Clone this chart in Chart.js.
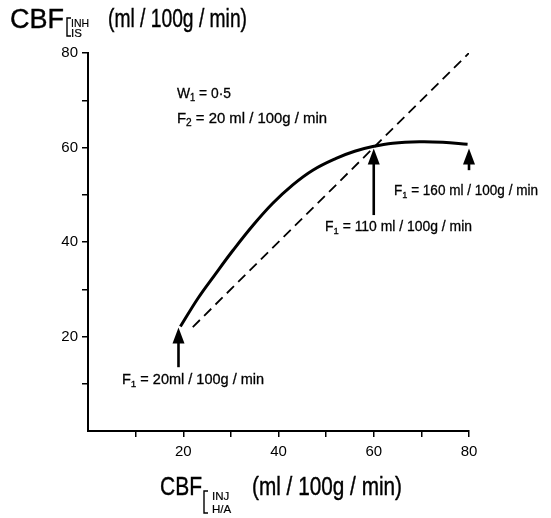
<!DOCTYPE html>
<html>
<head>
<meta charset="utf-8">
<script src="https://cdn.jsdelivr.net/npm/chart.js@4.4.1/dist/chart.umd.min.js"></script>
<style>html,body{margin:0;padding:0;background:#fff;}</style>
</head>
<body>
<canvas id="chart" width="551" height="518"></canvas>
<script>
// CBF by inhalation vs CBF by injection
const curveX = [19.4, 23.1, 26.6, 30.5, 34.7, 38.8, 43.0, 47.2, 52.1, 56.0, 59.8, 64.0, 69.6, 74.5, 79.7];
const curveY = [22.1, 28.1, 33.0, 38.3, 43.6, 48.2, 52.1, 55.2, 57.7, 59.2, 60.2, 60.9, 61.2, 61.1, 60.7];
const identityX = [22, 80];
const identityY = [22, 80];
// arrows marking F1 values
const arrowX = [19, 60, 80];
const arrowTip = [21.9, 59.8, 59.8];
const arrowTail = [13.5, 45.7, 55.2];
const arrowLabels = ['F\u2081 = 20ml / 100g / min', 'F\u2081 = 110 ml / 100g / min', 'F\u2081 = 160 ml / 100g / min'];
const paramLabels = ['W\u2081 = 0\u00b75', 'F\u2082 = 20 ml / 100g / min'];
const labelledTicks = [20, 40, 60, 80];

const FONT = "'Liberation Sans', Arial, sans-serif";
const SUB = {'\u2081':'1', '\u2082':'2'};

function pts(xs, ys){ return xs.map((x,i)=>({x, y: ys[i]})); }

// text with subscript digits drawn small and lowered, squeezed to maxW
function txt(ctx, s, x, y, size, maxW, stroke){
  const parts = [];
  let buf = '';
  for (const ch of s){
    if (SUB[ch]){ if (buf) parts.push([buf, false]); buf = ''; parts.push([SUB[ch], true]); }
    else buf += ch;
  }
  if (buf) parts.push([buf, false]);
  const fontFor = sub => (sub ? size * 0.68 : size) + 'px ' + FONT;
  let w = 0;
  parts.forEach(p => { ctx.font = fontFor(p[1]); w += ctx.measureText(p[0]).width; });
  const k = (maxW && w > maxW) ? maxW / w : 1;
  ctx.save();
  ctx.translate(x, y); ctx.scale(k, 1);
  ctx.lineWidth = stroke || 0.3;
  let cx = 0;
  parts.forEach(p => {
    ctx.font = fontFor(p[1]);
    const dy = p[1] ? size * 0.2 : 0;
    ctx.fillText(p[0], cx, dy);
    ctx.strokeText(p[0], cx, dy);
    cx += ctx.measureText(p[0]).width;
  });
  ctx.restore();
}

function bracket(ctx, x, y1, y2){
  ctx.beginPath();
  ctx.moveTo(x+4, y1); ctx.lineTo(x, y1); ctx.lineTo(x, y2); ctx.lineTo(x+4, y2);
  ctx.lineWidth = 1.4; ctx.stroke();
}

const annotations = {
  id: 'annotations',
  afterDatasetsDraw(chart){
    const ctx = chart.ctx, xs = chart.scales.x, ys = chart.scales.y;
    ctx.save();
    ctx.fillStyle = '#000'; ctx.strokeStyle = '#000';
    ctx.textBaseline = 'alphabetic'; ctx.textAlign = 'left';

    // arrows
    arrowX.forEach((v,i)=>{
      const px = xs.getPixelForValue(v);
      const tip = ys.getPixelForValue(arrowTip[i]);
      const tail = ys.getPixelForValue(arrowTail[i]);
      ctx.beginPath(); ctx.moveTo(px, tail); ctx.lineTo(px, tip + 12);
      ctx.lineWidth = 2.6; ctx.stroke();
      ctx.beginPath(); ctx.moveTo(px, tip); ctx.lineTo(px - 6, tip + 16); ctx.lineTo(px + 6, tip + 16); ctx.closePath();
      ctx.fill();
    });

    // arrow labels
    const pos = [[122, 384, 145], [325, 231, 147], [394, 195, 144]];
    arrowLabels.forEach((s,i)=> txt(ctx, s, pos[i][0], pos[i][1], 14.5, pos[i][2]));

    // parameters
    txt(ctx, paramLabels[0], 177, 98, 15, 54);
    txt(ctx, paramLabels[1], 177, 123, 15, 150);

    // y axis title
    txt(ctx, 'CBF', 10, 28, 27, 57, 0.4);
    bracket(ctx, 67, 18, 36);
    txt(ctx, 'INH', 71, 27, 11.5, 18, 0.2);
    txt(ctx, 'IS', 71, 37, 11.5, 13, 0.2);
    txt(ctx, '(ml / 100g / min)', 108, 27, 25, 139, 0.4);

    // x axis title
    txt(ctx, 'CBF', 160, 495, 26, 42, 0.4);
    bracket(ctx, 204, 491, 513);
    txt(ctx, 'INJ', 212, 500, 11.5, 20, 0.2);
    txt(ctx, 'H/A', 212, 513, 11.5, 26, 0.2);
    txt(ctx, '(ml / 100g / min)', 252, 495, 25, 150, 0.4);
    ctx.restore();
  }
};

const tickColor = c => (c.tick && c.tick.value === 0) ? 'rgba(0,0,0,0)' : '#000';

new Chart(document.getElementById('chart'), {
  type: 'line',
  data: {
    datasets: [
      { data: pts(curveX, curveY), borderColor: '#000', borderWidth: 3, pointRadius: 0,
        tension: 0.4, fill: false },
      { data: pts(identityX, identityY), borderColor: '#000', borderWidth: 1.8, borderDash: [10, 6],
        pointRadius: 0, fill: false }
    ]
  },
  options: {
    responsive: false,
    animation: false,
    devicePixelRatio: 1,
    layout: { padding: { left: 0, top: 53, right: 82, bottom: 0 } },
    plugins: { legend: { display: false }, tooltip: { enabled: false } },
    scales: {
      x: {
        type: 'linear', min: 0, max: 80,
        afterFit: s => { s.height = 87; },
        border: { display: true, color: '#000', width: 2 },
        grid: { drawOnChartArea: false, drawTicks: true, tickLength: 6, color: tickColor, lineWidth: 1.5 },
        ticks: { stepSize: 10, padding: 6, color: '#000', maxRotation: 0, autoSkip: false,
          font: { family: FONT, size: 15 },
          callback: v => labelledTicks.includes(v) ? String(v) : '' }
      },
      y: {
        type: 'linear', min: 0, max: 80,
        afterFit: s => { s.width = 88; },
        border: { display: true, color: '#000', width: 2 },
        grid: { drawOnChartArea: false, drawTicks: true, tickLength: 6, color: tickColor, lineWidth: 1.5 },
        ticks: { stepSize: 10, padding: 4, color: '#000', autoSkip: false,
          font: { family: FONT, size: 15 },
          callback: v => labelledTicks.includes(v) ? String(v) : '' }
      }
    }
  },
  plugins: [annotations]
});
</script>
</body>
</html>
